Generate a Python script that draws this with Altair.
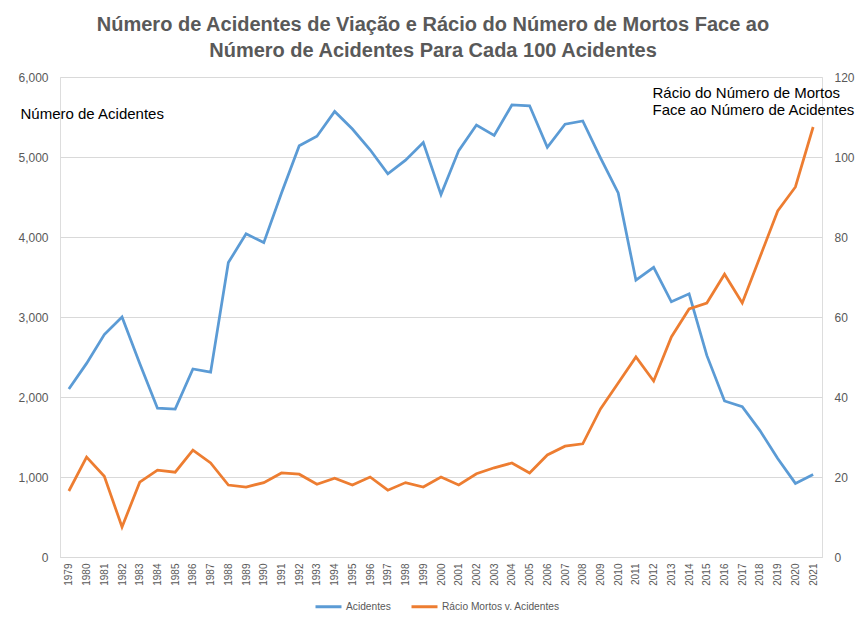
import altair as alt
import pandas as pd

years = list(range(1979, 2022))
acidentes = [2100, 2420, 2780, 3000, 2420, 1860, 1850, 2350, 2310, 3680,
             4040, 3930, 4550, 5140, 5260, 5570, 5350, 5090, 4790, 4960,
             5180, 4530, 5080, 5400, 5270, 5650, 5640, 5120, 5410, 5450,
             4990, 4550, 3460, 3620, 3190, 3290, 2520, 1950, 1880, 1580,
             1230, 920, 1030]
racio = [16.5, 25.0, 20.2, 7.5, 18.7, 21.7, 21.2, 26.7, 23.5, 18.0,
         17.5, 18.6, 21.0, 20.7, 18.2, 19.7, 18.0, 20.0, 16.7, 18.6,
         17.5, 20.0, 18.0, 20.8, 22.3, 23.5, 21.0, 25.5, 27.7, 28.3,
         37.0, 43.5, 50.0, 44.0, 55.0, 62.0, 63.5, 70.7, 63.5, 75.0,
         86.5, 92.5, 107.5]

series_names = ["Acidentes", "Rácio Mortos v. Acidentes"]
series_colors = ["#5B9BD5", "#ED7D31"]

df_a = pd.DataFrame({"Ano": [str(y) for y in years], "Valor": acidentes,
                     "Serie": series_names[0]})
df_r = pd.DataFrame({"Ano": [str(y) for y in years], "Valor": racio,
                     "Serie": series_names[1]})

FONT = "Liberation Sans"
GRAY = "#595959"

color = alt.Color(
    "Serie:N",
    scale=alt.Scale(domain=series_names, range=series_colors),
    legend=alt.Legend(title=None, orient="none", direction="horizontal",
                      legendX=254, legendY=515, symbolType="stroke",
                      symbolStrokeWidth=3, symbolSize=676,
                      labelFontSize=10.2, labelColor=GRAY, labelFont=FONT,
                      labelOffset=3, columnPadding=14))

x = alt.X("Ano:O", title=None, sort=None,
          axis=alt.Axis(labelAngle=-90, labelFontSize=10, labelColor=GRAY,
                        labelFont=FONT, ticks=False, domainColor="#D9D9D9",
                        labelPadding=6, labelBaseline="middle"))

left = alt.Chart(df_a).mark_line(strokeWidth=2.75).encode(
    x=x,
    y=alt.Y("Valor:Q",
            scale=alt.Scale(domain=[0, 6000]),
            axis=alt.Axis(values=[0, 1000, 2000, 3000, 4000, 5000, 6000],
                          format=",.0f", labelFontSize=12, labelColor=GRAY,
                          labelFont=FONT, ticks=False, domain=False,
                          gridColor="#D9D9D9", labelPadding=12,
                          title="Número de Acidentes", titleAngle=0,
                          titleAlign="left", titleBaseline="alphabetic",
                          titleX=-40, titleY=41, titleFont=FONT,
                          titleFontSize=15, titleFontWeight="normal",
                          titleColor="#000000")),
    color=color
)

right = alt.Chart(df_r).mark_line(strokeWidth=2.75).encode(
    x=x,
    y=alt.Y("Valor:Q",
            scale=alt.Scale(domain=[0, 120]),
            axis=alt.Axis(orient="right",
                          values=[0, 20, 40, 60, 80, 100, 120],
                          labelFontSize=12, labelColor=GRAY,
                          labelFont=FONT, ticks=False, domain=False,
                          grid=False, labelPadding=12,
                          title=["Rácio do Número de Mortos",
                                 "Face ao Número de Acidentes"],
                          titleAngle=0, titleAlign="left",
                          titleBaseline="alphabetic",
                          titleX=-170, titleY=20, titleLineHeight=17,
                          titleFont=FONT, titleFontSize=15,
                          titleFontWeight="normal", titleColor="#000000")),
    color=color
)

chart = alt.layer(left, right).resolve_scale(y="independent").properties(
    width=762, height=480,
    padding={"left": 52, "top": 69, "right": 38, "bottom": 65},
    autosize=alt.AutoSizeParams(type="none"),
    title=alt.TitleParams(
        ["Número de Acidentes de Viação e Rácio do Número de Mortos Face ao",
         "Número de Acidentes Para Cada 100 Acidentes"],
        font=FONT, fontSize=20, fontWeight="bold", color=GRAY,
        anchor="middle", dx=-8, offset=10, lineHeight=26),
).configure_view(stroke=None).configure(background="white")

chart.save("out.html", embed_options={"renderer": "svg", "actions": False})
